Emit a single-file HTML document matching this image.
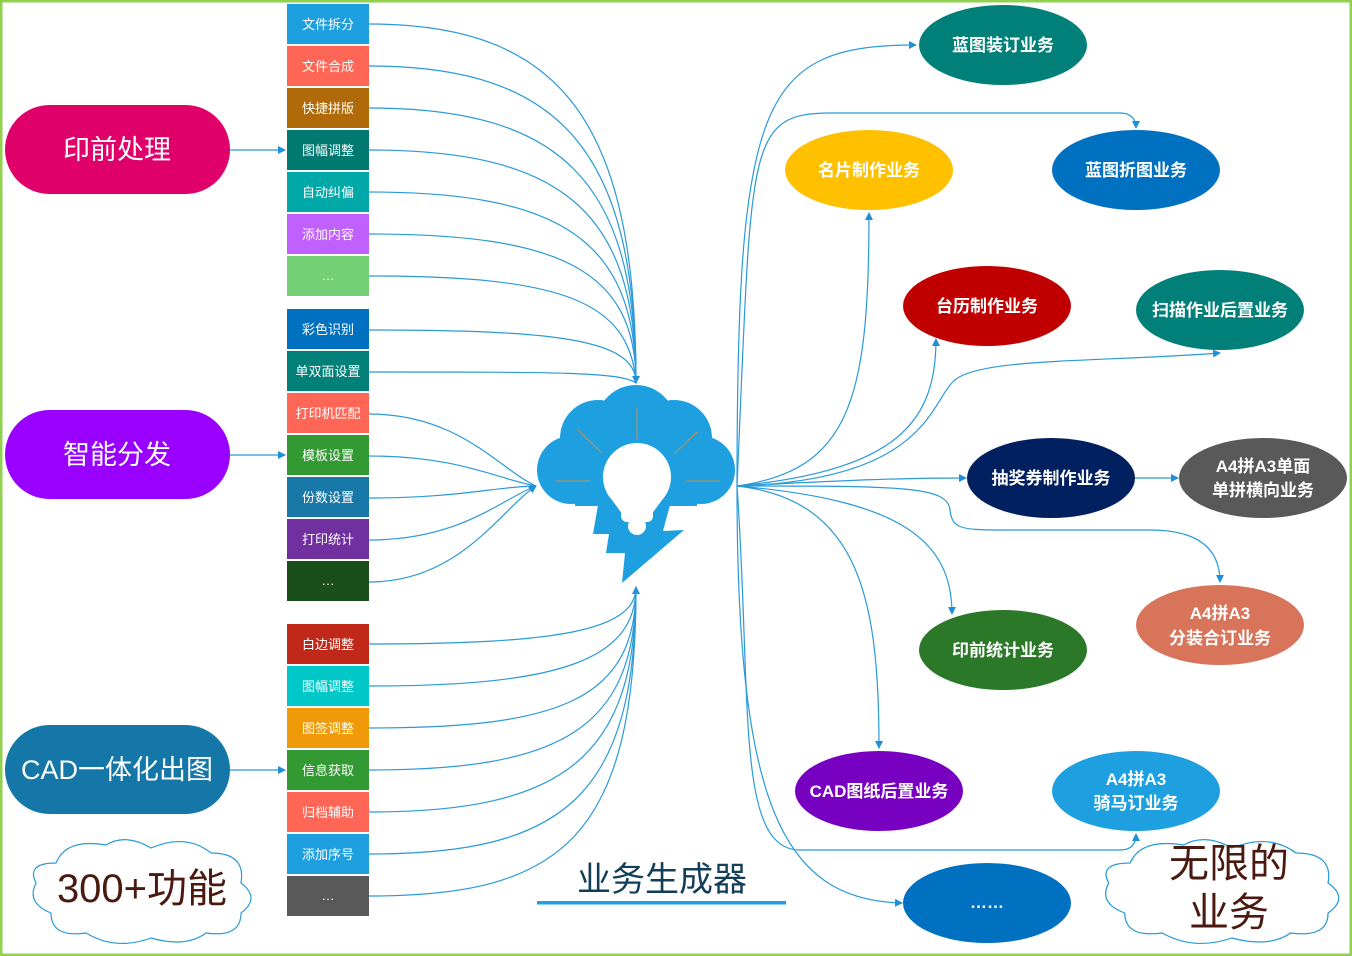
<!DOCTYPE html>
<html><head><meta charset="utf-8"><style>
html,body{margin:0;padding:0;background:#fff}
svg{display:block}
text{font-family:"Liberation Sans","Noto Sans CJK SC",sans-serif}
</style></head><body>
<svg width="1352" height="956" viewBox="0 0 1352 956" xmlns="http://www.w3.org/2000/svg">
<defs>
<marker id="ar" markerWidth="8" markerHeight="8" refX="7" refY="4" orient="auto" markerUnits="userSpaceOnUse"><path d="M0,0 L8,4 L0,8 Z" fill="#1e90d8"/></marker>
</defs>
<rect x="1" y="1" width="1350" height="954" fill="#fff" stroke="#92d050" stroke-width="3"/>

<g fill="none" stroke="#2a9ad8" stroke-width="1.2">
<path d="M369,24 C560,24 636,120 636,383"/>
<path d="M369,66 C560,66 636,150 636,383"/>
<path d="M369,108 C560,108 636,180 636,383"/>
<path d="M369,150 C560,150 636,210 636,383"/>
<path d="M369,192 C560,192 636,240 636,383"/>
<path d="M369,234 C560,234 636,270 636,383"/>
<path d="M369,276 C560,276 630,300 636,383"/>
<path d="M369,330 C560,330 636,340 636,383" marker-end="url(#ar)"/>
<path d="M369,372 C560,372 620,372 636,383"/>
<path d="M369,414 C460,414 500,470 536,486"/>
<path d="M369,456 C460,456 500,480 536,486"/>
<path d="M369,498 C460,498 500,486 536,486"/>
<path d="M369,540 C460,540 500,500 536,486"/>
<path d="M369,582 C460,582 500,510 536,486" marker-end="url(#ar)"/>
<path d="M369,644 C560,644 636,630 636,587" marker-end="url(#ar)"/>
<path d="M369,686 C560,686 636,660 636,587"/>
<path d="M369,728 C560,728 636,700 636,587"/>
<path d="M369,770 C560,770 636,730 636,587"/>
<path d="M369,812 C560,812 636,760 636,587"/>
<path d="M369,854 C560,854 636,800 636,587"/>
<path d="M369,896 C560,896 636,840 636,587"/>
<path d="M230,150 L285,150" marker-end="url(#ar)"/>
<path d="M230,455 L285,455" marker-end="url(#ar)"/>
<path d="M230,770 L285,770" marker-end="url(#ar)"/>
</g>

<g fill="none" stroke="#2a9ad8" stroke-width="1.2">
<path d="M737,486 C737,100 760,45 916,45" marker-end="url(#ar)"/>
<path d="M737,486 C752,150 745,113 830,113 L1120,113 C1130,113 1136,118 1136,128" marker-end="url(#ar)"/>
<path d="M737,486 C850,470 869,400 869,213" marker-end="url(#ar)"/>
<path d="M737,486 C900,470 936,420 936,339" marker-end="url(#ar)"/>
<path d="M737,486 C930,480 930,400 955,380 C980,358 1100,362 1220,353" marker-end="url(#ar)"/>
<path d="M737,486 C850,480 900,478 966,478" marker-end="url(#ar)"/>
<path d="M1135,478 L1178,478" marker-end="url(#ar)"/>
<path d="M737,486 C900,486 948,486 950,510 C952,528 960,530 1000,530 L1150,530 C1200,530 1220,550 1220,582" marker-end="url(#ar)"/>
<path d="M737,486 C900,500 952,540 952,614" marker-end="url(#ar)"/>
<path d="M737,486 C860,500 879,600 879,748" marker-end="url(#ar)"/>
<path d="M737,486 C752,700 735,850 800,850 L1120,850 C1130,850 1136,845 1136,834" marker-end="url(#ar)"/>
<path d="M737,486 C737,800 780,900 902,903" marker-end="url(#ar)"/>
</g>

<rect x="5" y="105" width="225" height="89" rx="44.5" fill="#e0006a"/>
<text x="117" y="159" font-size="27" fill="#fff" text-anchor="middle">印前处理</text>
<rect x="5" y="410" width="225" height="89" rx="44.5" fill="#9900ff"/>
<text x="117" y="464" font-size="27" fill="#fff" text-anchor="middle">智能分发</text>
<rect x="5" y="725" width="225" height="89" rx="44.5" fill="#1577a8"/>
<text x="117" y="779" font-size="27" fill="#fff" text-anchor="middle">CAD一体化出图</text>

<g font-size="13" fill="#fff" text-anchor="middle">
<rect x="287" y="4" width="82" height="40" fill="#1ea0e0"/><text x="328" y="29">文件拆分</text>
<rect x="287" y="46" width="82" height="40" fill="#ff6655"/><text x="328" y="71">文件合成</text>
<rect x="287" y="88" width="82" height="40" fill="#b06a08"/><text x="328" y="113">快捷拼版</text>
<rect x="287" y="130" width="82" height="40" fill="#007a70"/><text x="328" y="155">图幅调整</text>
<rect x="287" y="172" width="82" height="40" fill="#00a8a8"/><text x="328" y="197">自动纠偏</text>
<rect x="287" y="214" width="82" height="40" fill="#c060ff"/><text x="328" y="239">添加内容</text>
<rect x="287" y="256" width="82" height="40" fill="#74d074"/><text x="328" y="280">…</text>

<rect x="287" y="309" width="82" height="40" fill="#0070c0"/><text x="328" y="334">彩色识别</text>
<rect x="287" y="351" width="82" height="40" fill="#008078"/><text x="328" y="376">单双面设置</text>
<rect x="287" y="393" width="82" height="40" fill="#ff6655"/><text x="328" y="418">打印机匹配</text>
<rect x="287" y="435" width="82" height="40" fill="#339933"/><text x="328" y="460">模板设置</text>
<rect x="287" y="477" width="82" height="40" fill="#1878a8"/><text x="328" y="502">份数设置</text>
<rect x="287" y="519" width="82" height="40" fill="#7030a0"/><text x="328" y="544">打印统计</text>
<rect x="287" y="561" width="82" height="40" fill="#1a4e1a"/><text x="328" y="585">…</text>

<rect x="287" y="624" width="82" height="40" fill="#c0281a"/><text x="328" y="649">白边调整</text>
<rect x="287" y="666" width="82" height="40" fill="#00c8c8"/><text x="328" y="691">图幅调整</text>
<rect x="287" y="708" width="82" height="40" fill="#f09a0a"/><text x="328" y="733">图签调整</text>
<rect x="287" y="750" width="82" height="40" fill="#339933"/><text x="328" y="775">信息获取</text>
<rect x="287" y="792" width="82" height="40" fill="#ff6655"/><text x="328" y="817">归档辅助</text>
<rect x="287" y="834" width="82" height="40" fill="#1ea0e0"/><text x="328" y="859">添加序号</text>
<rect x="287" y="876" width="82" height="40" fill="#595959"/><text x="328" y="900">…</text>
</g>

<g fill="#1ea0e0">
<circle cx="571" cy="470" r="34"/>
<circle cx="598" cy="438" r="38"/>
<circle cx="636" cy="425" r="40"/>
<circle cx="674" cy="438" r="38"/>
<circle cx="701" cy="470" r="34"/>
<rect x="575" y="440" width="122" height="66"/>
<polygon points="598,505 593,534 609,534 606,553 625,553 622,583 684,530 663,531 670,505"/>
</g>
<g stroke="#c09050" stroke-width="1">
<line x1="637" y1="408" x2="637" y2="440"/>
<line x1="578" y1="430" x2="602" y2="453"/>
<line x1="697" y1="432" x2="674" y2="454"/>
<line x1="556" y1="481" x2="590" y2="481"/>
<line x1="686" y1="481" x2="720" y2="481"/>
</g>
<g fill="#fff">
<circle cx="637" cy="477" r="34"/>
<path d="M612,500 L662,500 L651,515 L623,515 Z"/>
<rect x="621" y="508" width="32" height="14" rx="6"/>
<circle cx="637" cy="526" r="9"/>
</g>

<text x="662" y="891" font-size="34" fill="#123e58" text-anchor="middle">业务生成器</text>
<rect x="537" y="901" width="249" height="3.5" fill="#1ea0e0"/>

<g font-size="17" font-weight="bold" fill="#fff" text-anchor="middle">
<ellipse cx="1003" cy="45" rx="84" ry="40" fill="#008078"/><text x="1003" y="51">蓝图装订业务</text>
<ellipse cx="869" cy="170" rx="84" ry="40" fill="#ffc000"/><text x="869" y="176">名片制作业务</text>
<ellipse cx="1136" cy="170" rx="84" ry="40" fill="#0070c0"/><text x="1136" y="176">蓝图折图业务</text>
<ellipse cx="987" cy="306" rx="84" ry="40" fill="#c00000"/><text x="987" y="312">台历制作业务</text>
<ellipse cx="1220" cy="310" rx="84" ry="40" fill="#008078"/><text x="1220" y="316">扫描作业后置业务</text>
<ellipse cx="1051" cy="478" rx="84" ry="40" fill="#002060"/><text x="1051" y="484">抽奖券制作业务</text>
<ellipse cx="1263" cy="478" rx="84" ry="40" fill="#595959"/><text x="1263" y="472">A4拼A3单面</text><text x="1263" y="496">单拼横向业务</text>
<ellipse cx="1220" cy="625" rx="84" ry="40" fill="#d8745a"/><text x="1220" y="619">A4拼A3</text><text x="1220" y="644">分装合订业务</text>
<ellipse cx="1003" cy="650" rx="84" ry="40" fill="#2a7828"/><text x="1003" y="656">印前统计业务</text>
<ellipse cx="879" cy="791" rx="84" ry="40" fill="#7800c0"/><text x="879" y="797">CAD图纸后置业务</text>
<ellipse cx="1136" cy="791" rx="84" ry="40" fill="#1ea0e0"/><text x="1136" y="785">A4拼A3</text><text x="1136" y="809">骑马订业务</text>
<ellipse cx="987" cy="903" rx="84" ry="40" fill="#0070c0"/><text x="987" y="908">……</text>
</g>

<g fill="#fff" stroke="#2a9ad8" stroke-width="1.2">
<path transform="translate(26,833)" d="M30,30 Q40,5 80,12 Q100,0 125,15 Q160,0 185,20 Q220,20 215,50 Q235,65 215,80 Q215,105 180,100 Q160,115 125,105 Q90,118 60,100 Q25,105 25,80 Q0,70 10,50 Q0,30 30,30 Z"/>
<path transform="translate(1098,833) scale(1.07,1)" d="M30,30 Q40,5 80,12 Q100,0 125,15 Q160,0 185,20 Q220,20 215,50 Q235,65 215,80 Q215,105 180,100 Q160,115 125,105 Q90,118 60,100 Q25,105 25,80 Q0,70 10,50 Q0,30 30,30 Z"/>
</g>
<text x="142" y="902" font-size="40" fill="#4a1a10" text-anchor="middle">300+功能</text>
<text x="1229" y="877" font-size="40" fill="#4a1a10" text-anchor="middle">无限的</text>
<text x="1229" y="926" font-size="40" fill="#4a1a10" text-anchor="middle">业务</text>
</svg>
</body></html>
